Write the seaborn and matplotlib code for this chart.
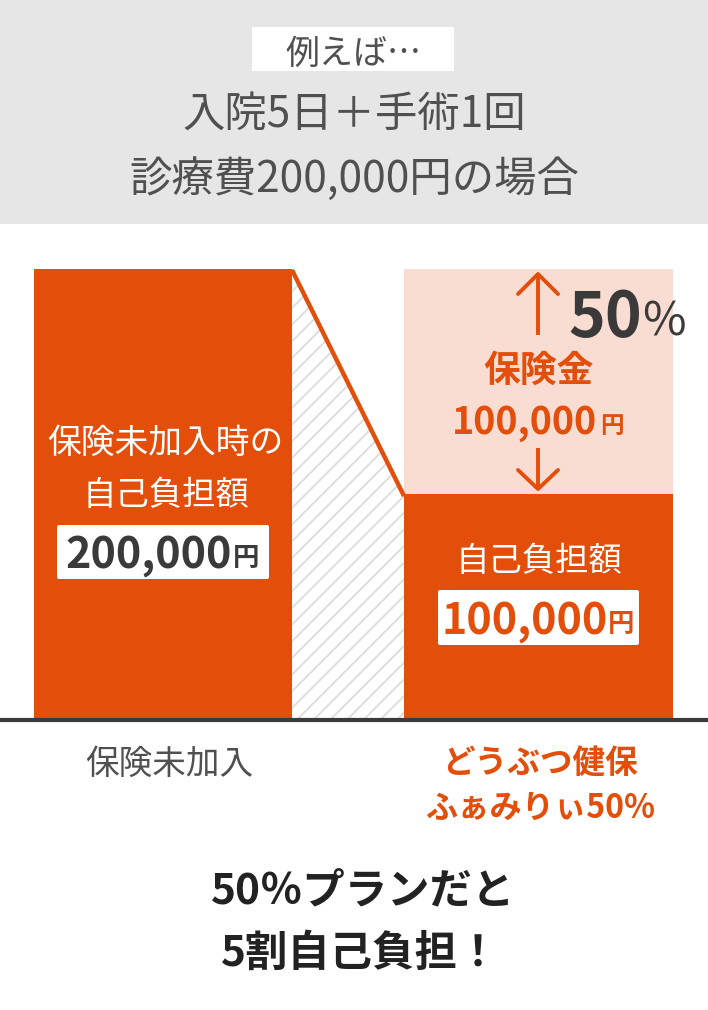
import matplotlib
matplotlib.use("Agg")
import matplotlib.pyplot as plt
from matplotlib.patches import Polygon, FancyBboxPatch, Rectangle
import seaborn as sns
import pandas as pd

sns.set_theme(style="white")
plt.rcParams['font.family'] = ['Noto Sans CJK JP', 'DejaVu Sans']
plt.rcParams['hatch.linewidth'] = 1.3
plt.rcParams['hatch.color'] = '#dcdcdc'

plans = ["保険未加入", "どうぶつ健保ふぁみりぃ50%"]
total_cost = [200000, 200000]
self_pay = [200000, 100000]

ORANGE = '#e34e0a'
LIGHT = '#f9dcd2'
DARK = '#3a3a3a'
GREY = '#e6e6e6'
TXT = '#505050'

W, H = 708, 1010
fig = plt.figure(figsize=(W/100, H/100), dpi=100, facecolor='white')
YPP = 200000/450
ax = fig.add_axes([0, 0, 1, 1])
df = pd.DataFrame({"plan": plans, "total": total_cost, "self": self_pay})
sns.barplot(data=df, x="plan", y="total", order=plans, color=LIGHT, saturation=1, ax=ax, width=0.8, zorder=1)
sns.barplot(data=df, x="plan", y="self", order=plans, color=ORANGE, saturation=1, ax=ax, width=0.8, zorder=2)

# map the two category slots onto their pixel spans
spans = [(34, 292), (404, 673)]
ax.set_xlim(-0.5, 1.5)
ax.set_ylim(-(H-719)*YPP, 719*YPP)
ax.axis('off')
x2d = lambda px: -0.5 + px/W*2
for p in ax.patches:
    p.set_linewidth(0)
    idx = int(round(p.get_x() + p.get_width()/2))
    s = spans[idx]
    p.set_x(x2d(s[0]))
    p.set_width(x2d(s[1]) - x2d(s[0]))

# overlay in pixel coordinates for annotation
ov = fig.add_axes([0, 0, 1, 1], facecolor='none')
ov.set_xlim(0, W)
ov.set_ylim(H, 0)
ov.axis('off')
ov.add_patch(Rectangle((0, 0), W, 224, color=GREY, lw=0))
ov.add_patch(Rectangle((252, 27), 202, 44, color='white', lw=0))

ov.add_patch(Polygon([(292, 275), (404, 494), (404, 719), (292, 719)], closed=True,
                     facecolor='white', edgecolor='#dcdcdc', hatch='//', lw=0))
ov.plot([292, 404], [270, 496], color=ORANGE, lw=3.2, solid_capstyle='butt')
ov.plot([0, 708], [720, 720], color=DARK, lw=3.0, solid_capstyle='butt', zorder=5)


def t(x, y, s, size, color=DARK, weight='normal', ha='center'):
    return ov.text(x, y, s, fontsize=size, color=color, fontweight=weight, ha=ha, va='center', zorder=4)


t(354, 54, "例えば…", 24.5, TXT)
t(354, 115, "入院5日＋手術1回", 30.5, TXT)
t(354, 180, "診療費200,000円の場合", 30.5, TXT)

t(165, 443, "保険未加入時の", 24.3, 'white')
t(166, 495, "自己負担額", 24, 'white')
for (x0, y0, x1, y1) in [(57, 525, 269, 579), (438, 590, 639, 645)]:
    ov.add_patch(FancyBboxPatch((x0+2, y0+2), x1-x0-4, y1-y0-4, boxstyle='round,pad=2',
                                fc='white', ec='none', zorder=3))
t(149, 555, "200,000", 31, DARK, 'bold')
t(246, 558, "円", 19, DARK, 'bold')

t(539, 562, "自己負担額", 24, 'white')
t(525, 621, "100,000", 31, ORANGE, 'bold')
t(621, 624, "円", 19, ORANGE, 'bold')

t(538, 371, "保険金", 26.5, ORANGE, 'bold')
t(524, 422, "100,000", 27, ORANGE, 'bold')
t(612, 426, "円", 17, ORANGE, 'bold')
t(605, 318, "50", 45, DARK, 'bold')
t(664, 322, "%", 34, DARK, 'normal')

# arrows
ov.plot([538, 538], [335, 275], color=ORANGE, lw=2.8, solid_capstyle='butt', zorder=4)
ov.plot([518, 538, 558], [294, 274, 294], color=ORANGE, lw=2.8, zorder=4)
ov.plot([538, 538], [448, 489], color=ORANGE, lw=2.8, solid_capstyle='butt', zorder=4)
ov.plot([518, 538, 558], [470, 489, 470], color=ORANGE, lw=2.8, zorder=4)

t(169, 764, "保険未加入", 24.2, TXT)
t(540, 763, "どうぶつ健保", 23.5, ORANGE, 'bold')
t(540, 808, "ふぁみりぃ50%", 23.2, ORANGE, 'bold')

t(363, 891, "50％プランだと", 30.5, '#222222', 'bold')
t(361, 954, "5割自己負担！", 30.5, '#222222', 'bold')

fig.savefig('out.png', dpi=100)
